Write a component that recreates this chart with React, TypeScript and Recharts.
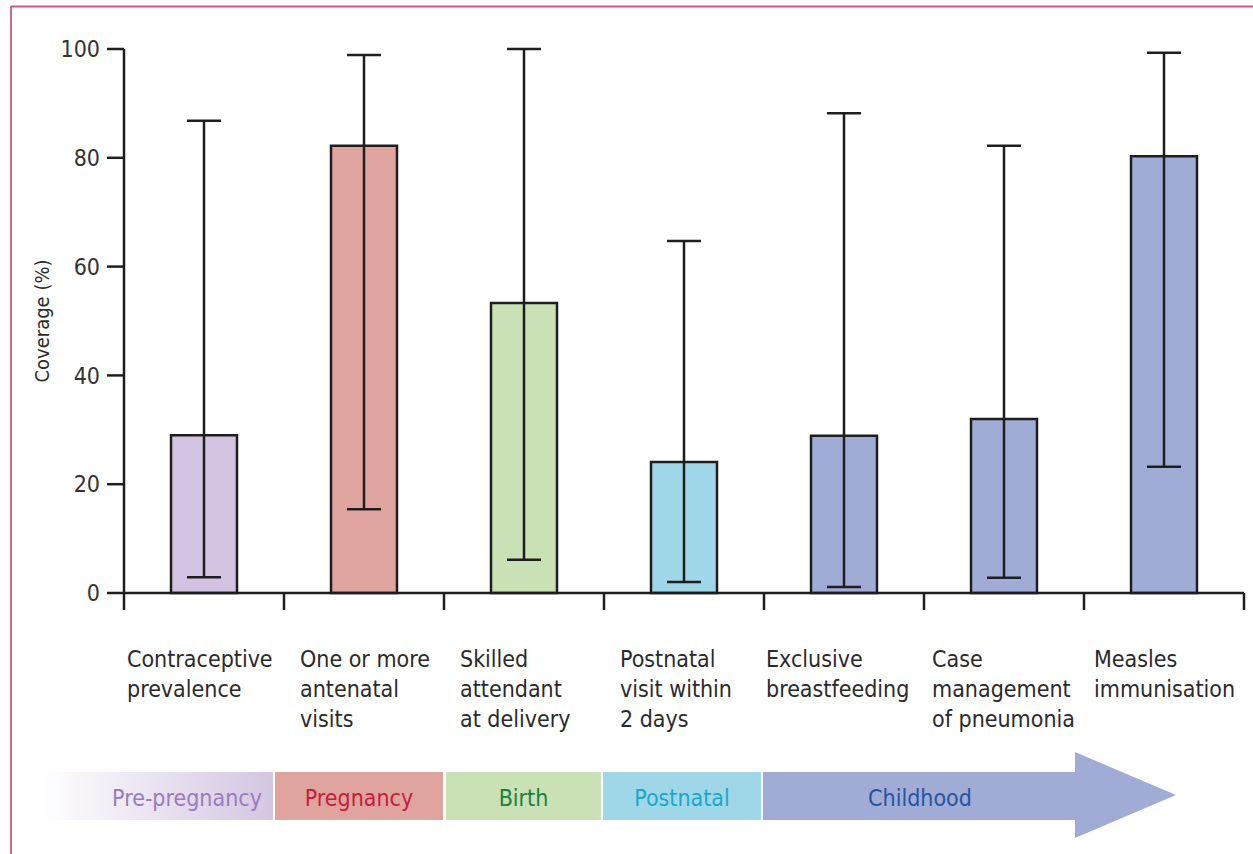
import React from "react"
import { BarChart, Bar, Cell, XAxis, YAxis, ErrorBar, Label } from "recharts"

const categories = [
  ["Contraceptive", "prevalence"],
  ["One or more", "antenatal", "visits"],
  ["Skilled", "attendant", "at delivery"],
  ["Postnatal", "visit within", "2 days"],
  ["Exclusive", "breastfeeding"],
  ["Case", "management", "of pneumonia"],
  ["Measles", "immunisation"],
]
const coverage = [29.0, 82.2, 53.3, 24.1, 28.9, 32.0, 80.3]
const lowerBound = [2.9, 15.4, 6.1, 2.0, 1.1, 2.8, 23.2]
const upperBound = [86.8, 98.9, 100, 64.7, 88.2, 82.2, 99.3]
const barColors = ["#d1c3e1", "#e0a49e", "#c9e1b4", "#9fd7e9", "#a0acd6", "#a0acd6", "#a0acd6"]
const yTicks = [0, 20, 40, 60, 80, 100]
const boundaryTicks = [0, 1, 2, 3, 4, 5, 6, 7]

// label indent from the left boundary of each category (px)
const LABEL_NUDGE = [3, 16, 16, 16, 2, 8, 10]

const stages = [
  { name: "Pre-pregnancy", from: 40, to: 273, fill: "url(#preGrad)", text: "#9b7bbb" },
  { name: "Pregnancy", from: 275, to: 443, fill: "#e0a49e", text: "#c41e3a" },
  { name: "Birth", from: 446, to: 601, fill: "#c9e1b4", text: "#1d7f3e" },
  { name: "Postnatal", from: 603, to: 761, fill: "#9fd7e9", text: "#1ba7cc" },
]

const FONT = "'Liberation Sans Narrow', 'DejaVu Sans Condensed', Roboto, sans-serif"
const INK = "#1e1e1e"

const data = coverage.map((v, i) => ({
  pos: i + 0.5,
  value: v,
  err: [v - lowerBound[i], upperBound[i] - v],
}))

function CategoryTick(props: any) {
  const { x, y, payload } = props
  const lines = categories[payload.value]
  if (!lines) return null
  const lx = x + LABEL_NUDGE[payload.value]
  return (
    <text x={lx} y={y + 55} fill="#2a2a2a" fontSize={23} fontFamily={FONT} textAnchor="start">
      {lines.map((l, j) => (
        <tspan key={j} x={lx} dy={j === 0 ? 0 : 30}>
          {l}
        </tspan>
      ))}
    </text>
  )
}

function StageBand() {
  return (
    <svg width={1253} height={854} style={{ position: "absolute", left: 0, top: 0, pointerEvents: "none" }}>
      <defs>
        <linearGradient id="preGrad" x1="0" x2="1" y1="0" y2="0">
          <stop offset="0" stopColor="#ffffff" />
          <stop offset="1" stopColor="#d3c6e2" />
        </linearGradient>
      </defs>
      <line x1={11} y1={6.5} x2={1253} y2={6.5} stroke="#c95a7c" strokeWidth={1.8} />
      <line x1={11} y1={6} x2={11} y2={854} stroke="#c95a7c" strokeWidth={1.8} />
      {stages.map((s) => (
        <g key={s.name}>
          <rect x={s.from} y={772} width={s.to - s.from} height={48} fill={s.fill} />
          <text
            x={s.name === "Pre-pregnancy" ? 187 : (s.from + s.to) / 2}
            y={806}
            fill={s.text}
            fontSize={23}
            fontFamily={FONT}
            textAnchor="middle"
          >
            {s.name}
          </text>
        </g>
      ))}
      <polygon points="763,772 1075,772 1075,752 1176,795 1075,838 1075,820 763,820" fill="#a0acd6" />
      <text x={920} y={806} fill="#2455a0" fontSize={23} fontFamily={FONT} textAnchor="middle">
        Childhood
      </text>
    </svg>
  )
}

export default function App() {
  return (
    <div style={{ position: "absolute", left: 0, top: 0, width: 1253, height: 854, background: "#fff" }}>
      <BarChart width={1253} height={854} data={data} margin={{ top: 49, right: 9, bottom: 201, left: 0 }}>
        <XAxis
          type="number"
          dataKey="pos"
          domain={[0, 7]}
          ticks={boundaryTicks}
          interval={0}
          height={60}
          tickSize={17}
          axisLine={{ stroke: INK, strokeWidth: 2.5 }}
          tickLine={{ stroke: INK, strokeWidth: 2.5 }}
          tick={<CategoryTick />}
        />
        <YAxis
          domain={[0, 100]}
          ticks={yTicks}
          width={124}
          tickSize={17}
          tickMargin={7}
          axisLine={{ stroke: INK, strokeWidth: 2.5 }}
          tickLine={{ stroke: INK, strokeWidth: 2.5 }}
          tick={{ fill: "#333", fontSize: 23, fontFamily: FONT }}
        >
          <Label
            content={({ viewBox }: any) => {
              const cx = 42
              const cy = viewBox.y + viewBox.height / 2
              return (
                <text
                  x={cx}
                  y={cy}
                  transform={`rotate(-90 ${cx} ${cy})`}
                  textAnchor="middle"
                  dominantBaseline="central"
                  fill="#2a2a2a"
                  fontSize={20}
                  fontFamily={FONT}
                >
                  Coverage (%)
                </text>
              )
            }}
          />
        </YAxis>
        <Bar dataKey="value" barSize={66} stroke={INK} strokeWidth={2.5} isAnimationActive={false}>
          {data.map((_, i) => (
            <Cell key={i} fill={barColors[i]} />
          ))}
          <ErrorBar dataKey="err" width={17} stroke={INK} strokeWidth={2.5} isAnimationActive={false} />
        </Bar>
      </BarChart>
      <StageBand />
    </div>
  )
}
